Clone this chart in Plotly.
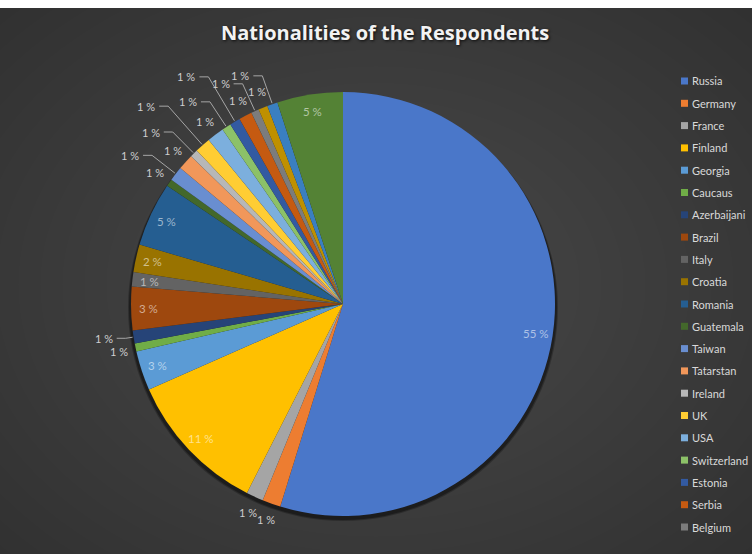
import math
import plotly.graph_objects as go

# ---- data ----
countries = ["Russia", "Germany", "France", "Finland", "Georgia", "Caucaus",
             "Azerbaijani", "Brazil", "Italy", "Croatia", "Romania", "Guatemala",
             "Taiwan", "Tatarstan", "Ireland", "UK", "USA", "Switzerland",
             "Estonia", "Serbia", "Belgium", "Other 1", "Other 2", "Other 3"]
shares = [54.7, 1.4, 1.3, 10.9, 3.0, 0.6,
          1.0, 3.3, 1.1, 2.1, 4.9, 0.55,
          1.1, 1.2, 0.6, 1.2, 1.3, 0.7,
          0.8, 1.0, 0.6, 0.7, 0.8, 5.0]
legend_count = 21  # legend in the original is cut after "Belgium"

colors = ["#4A77C9", "#ED7D31", "#A5A5A5", "#FFC000", "#5B9BD5", "#70AD47",
          "#264478", "#9E480E", "#636363", "#997300", "#255E91", "#43682B",
          "#698ED0", "#F1975A", "#B7B7B7", "#FFCD33", "#7CAFDD", "#8CC168",
          "#335AA1", "#C55A11", "#7C7C7C", "#BF9000", "#3A7FC0", "#548235"]
# label style per slice: "in" inside, "out" just outside, "lead" outside with leader
label_style = ["in", "out", "out", "in", "in", "out",
               "lead", "in", "in", "in", "in", "out",
               "lead", "out", "lead", "lead2", "out", "lead",
               "lead2", "out", "lead", "out", "lead", "in"]

W, H = 752, 554
CX, CY, R = 343, 304, 212


def tint(hexc, f=0.55):
    r, g, b = (int(hexc[i:i + 2], 16) for i in (1, 3, 5))
    r, g, b = (int(c + (255 - c) * f) for c in (r, g, b))
    return f"rgb({r},{g},{b})"


def px(x, y):
    return x / W, 1 - y / H


def polar(theta_deg, r):
    t = math.radians(theta_deg)
    return CX + r * math.sin(t), CY - r * math.cos(t)


fig = go.Figure()
fig.add_trace(go.Pie(
    labels=countries, values=shares, sort=False, direction="clockwise",
    rotation=0, marker=dict(colors=colors, line=dict(width=0)),
    textinfo="none", showlegend=False, hoverinfo="label+value",
    domain=dict(x=[(CX - R) / W, (CX + R) / W],
                y=[1 - (CY + R) / H, 1 - (CY - R) / H]),
))

shapes = []
# dark background with a soft radial light, thin white strip on top
shapes.append(dict(type="rect", xref="paper", yref="paper", x0=0, x1=1,
                   y0=0, y1=1 - 8 / H, fillcolor="#2d2d2d", line_width=0,
                   layer="below"))
n_rings = 26
for k in range(n_rings):
    rx = 600 - k * 22
    ry = 450 - k * 16.5
    cx, cy = 376, 285
    shapes.append(dict(type="circle", xref="paper", yref="paper",
                       x0=(cx - rx) / W, x1=(cx + rx) / W,
                       y0=1 - (cy + ry) / H, y1=1 - (cy - ry) / H,
                       fillcolor="rgba(255,255,255,0.0095)", line_width=0,
                       layer="below"))
# soft shadow under the pie
for k, a in enumerate([0.25, 0.35]):
    d = 3 - k
    shapes.append(dict(type="circle", xref="paper", yref="paper",
                       x0=(CX - R - d) / W, x1=(CX + R + d) / W,
                       y0=1 - (CY + R + d + 2) / H, y1=1 - (CY - R + 2) / H,
                       fillcolor=f"rgba(0,0,0,{a})", line_width=0,
                       layer="below"))

annotations = [dict(text="<b>Nationalities of the Respondents</b>",
                    x=385 / W, y=1 - 32 / H, xref="paper", yref="paper",
                    showarrow=False, xanchor="center", yanchor="middle",
                    font=dict(family="Open Sans", size=20, color="#f2f2f2",
                              shadow="1px 1px 3px rgba(0,0,0,0.8)"))]

# data labels, placed from each slice's mid angle
total = sum(shares)
cum = 0.0
for i, v in enumerate(shares):
    mid = (cum + v / 2) / total * 360
    cum += v
    txt = f"{v:.0f} %"
    style = label_style[i]
    if style == "in":
        x, y = polar(mid, R * 0.92)
        annotations.append(dict(text=txt, x=px(x, y)[0], y=px(x, y)[1],
                                xref="paper", yref="paper", showarrow=False,
                                xanchor="center", yanchor="middle",
                                font=dict(family="Lato", size=11.5,
                                          color=tint(colors[i]))))
    elif style == "out":
        x, y = polar(mid, R + 17)
        annotations.append(dict(text=txt, x=px(x, y)[0], y=px(x, y)[1],
                                xref="paper", yref="paper", showarrow=False,
                                xanchor="center", yanchor="middle",
                                font=dict(family="Lato", size=11,
                                          color="#cfcfcf")))
    else:
        gap = 8 if i < 11 else (30 if style == "lead" else 52)
        x0, y0 = polar(mid, R + 1)
        x1, y1 = polar(mid, R + gap)
        x2, y2 = x1 - 9, y1
        pts = [px(x0, y0), px(x1, y1), px(x2, y2)]
        path = "M {} {} L {} {} L {} {}".format(*[c for p in pts for c in p])
        shapes.append(dict(type="path", xref="paper", yref="paper", path=path,
                           line=dict(color="#a6a6a6", width=1)))
        annotations.append(dict(text=txt, x=px(x2 - 2, y2)[0],
                                y=px(x2 - 2, y2)[1], xref="paper",
                                yref="paper", showarrow=False,
                                xanchor="right", yanchor="middle",
                                font=dict(family="Lato", size=11,
                                          color="#cfcfcf")))

# legend (manually laid out, first 21 entries as in the original)
for i in range(legend_count):
    yc = 81 + i * 22.3
    shapes.append(dict(type="rect", xref="paper", yref="paper",
                       x0=681 / W, x1=688 / W,
                       y0=1 - (yc + 3.5) / H, y1=1 - (yc - 3.5) / H,
                       fillcolor=colors[i], line_width=0))
    annotations.append(dict(text=countries[i], x=690 / W, y=1 - yc / H,
                            xref="paper", yref="paper", showarrow=False,
                            xanchor="left", yanchor="middle",
                            font=dict(family="Lato", size=11, color="#d9d9d9")))

fig.update_layout(width=W, height=H, margin=dict(l=0, r=0, t=0, b=0),
                  paper_bgcolor="white", shapes=shapes,
                  annotations=annotations)
fig.write_html("out.html")
